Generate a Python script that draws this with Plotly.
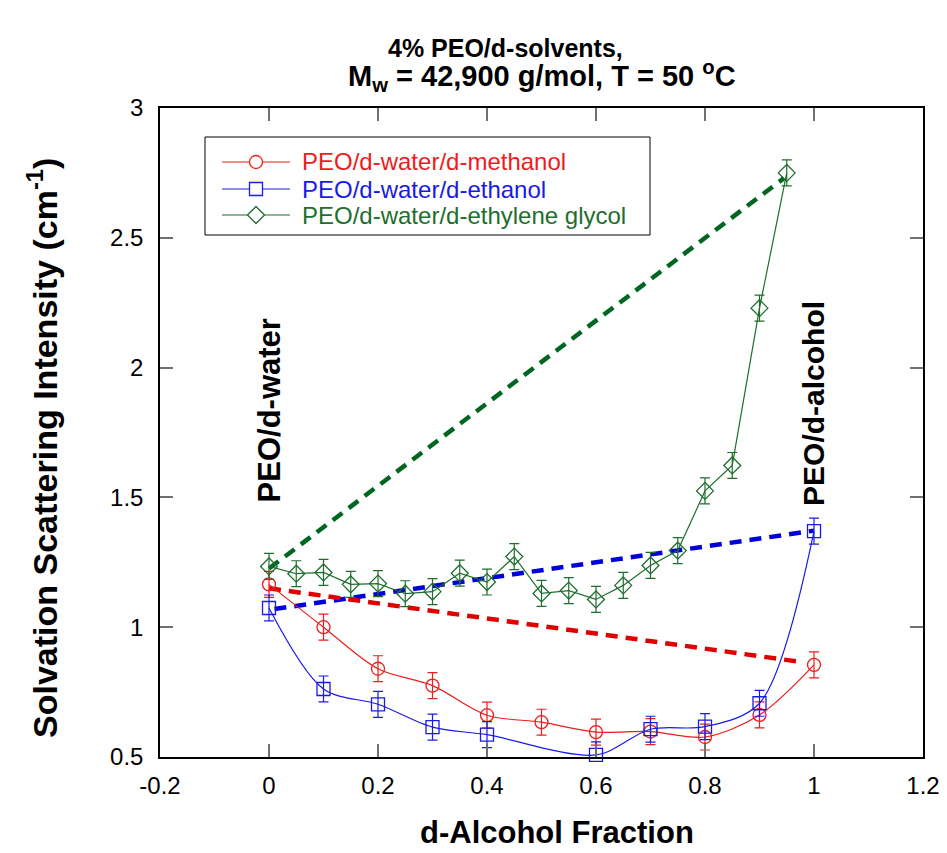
import plotly.graph_objects as go

# ---------------- data ----------------
x_meoh = [0.0, 0.1, 0.2, 0.3, 0.4, 0.5, 0.6, 0.7, 0.8, 0.9, 1.0]
y_meoh = [1.165, 1.00, 0.84, 0.775, 0.661, 0.634, 0.596, 0.598, 0.577, 0.662, 0.855]
e_meoh = [0.05, 0.05, 0.05, 0.05, 0.05, 0.05, 0.05, 0.05, 0.05, 0.05, 0.05]

x_etoh = [0.0, 0.1, 0.2, 0.3, 0.4, 0.6, 0.7, 0.8, 0.9, 1.0]
y_etoh = [1.074, 0.762, 0.703, 0.615, 0.586, 0.508, 0.607, 0.617, 0.707, 1.37]
e_etoh = [0.05, 0.05, 0.05, 0.05, 0.05, 0.05, 0.05, 0.05, 0.05, 0.05]

x_eg = [0.0, 0.05, 0.1, 0.15, 0.2, 0.25, 0.3, 0.35, 0.4, 0.45,
        0.5, 0.55, 0.6, 0.65, 0.7, 0.75, 0.8, 0.85, 0.9, 0.95]
y_eg = [1.234, 1.206, 1.211, 1.165, 1.168, 1.129, 1.137, 1.208, 1.174, 1.272,
        1.13, 1.141, 1.107, 1.161, 1.238, 1.295, 1.525, 1.623, 2.229, 2.75]
e_eg = [0.05] * 20  # uniform error bars

# dashed "ideal mixing" lines (end points)
dash_meoh_x = [0.0, 0.98]
dash_meoh_y = [1.15, 0.865]
dash_etoh_x = [0.01, 1.0]
dash_etoh_y = [1.07, 1.372]
dash_eg_x = [0.0, 0.945]
dash_eg_y = [1.226, 2.73]

x_ticks = [-0.2, 0, 0.2, 0.4, 0.6, 0.8, 1, 1.2]
x_ticklabels = ["-0.2", "0", "0.2", "0.4", "0.6", "0.8", "1", "1.2"]
y_ticks = [0.5, 1, 1.5, 2, 2.5, 3]
y_ticklabels = ["0.5", "1", "1.5", "2", "2.5", "3"]

series_names = ["PEO/d-water/d-methanol", "PEO/d-water/d-ethanol",
                "PEO/d-water/d-ethylene glycol"]

# ---------------- style ----------------
RED = "#ee1c1c"
BLUE = "#1a1ae6"
GREEN = "#1e6e2e"
DRED = "#e00000"
DBLUE = "#0000dd"
DGREEN = "#006622"
FONT = "Liberation Sans, Arial, sans-serif"

# page body has an 8px default margin -> compensate
OFF = 8
W, H = 947 - OFF, 853 - OFF
PL, PR, PT, PB = 160, 923, 108, 757          # plot area in window pixels
L, R, T, B = PL - OFF, OFF + W - PR, PT - OFF, OFF + H - PB
PW, PH = PR - PL, PB - PT


def px(xw):
    return (xw - PL) / PW


def py(yw):
    return (PB - yw) / PH


fig = go.Figure()

# dashed lines (drawn first, under the data)
for dx, dy, c in [(dash_eg_x, dash_eg_y, DGREEN),
                  (dash_etoh_x, dash_etoh_y, DBLUE),
                  (dash_meoh_x, dash_meoh_y, DRED)]:
    fig.add_trace(go.Scatter(x=dx, y=dy, mode="lines", showlegend=False,
                             line=dict(color=c, width=4.5, dash="12px,8px"),
                             hoverinfo="skip"))


def add_series(x, y, e, name, color, symbol, size, shape):
    fig.add_trace(go.Scatter(
        x=x, y=y, mode="lines+markers", name=name, showlegend=False,
        line=dict(color=color, width=1.2, shape=shape, smoothing=0.9),
        marker=dict(symbol=symbol, size=size, color="rgba(255,255,255,0)",
                    line=dict(color=color, width=1.3)),
        error_y=dict(type="data", array=e, visible=True, color=color,
                     thickness=1.2, width=5),
        cliponaxis=False,
    ))


add_series(x_meoh, y_meoh, e_meoh, series_names[0], RED, "circle", 13, "spline")
add_series(x_etoh, y_etoh, e_etoh, series_names[1], BLUE, "square", 13, "spline")
add_series(x_eg, y_eg, e_eg, series_names[2], GREEN, "diamond", 13, "linear")

# ---------------- custom legend (box, samples, coloured labels) ----------------
LEG_X0, LEG_X1, LEG_Y0, LEG_Y1 = 205, 650, 137, 235
ROWS = [162, 189, 215]
SAMPLE_X0, SAMPLE_X1, SAMPLE_XC, TEXT_X = 222, 290, 256, 300
shapes = [dict(type="rect", xref="paper", yref="paper",
               x0=px(LEG_X0), x1=px(LEG_X1), y0=py(LEG_Y1), y1=py(LEG_Y0),
               line=dict(color="black", width=1), fillcolor="white", layer="above")]
annotations = []
colors = [RED, BLUE, GREEN]
r = 6.5
for i, (yr, c, nm) in enumerate(zip(ROWS, colors, series_names)):
    shapes.append(dict(type="line", xref="paper", yref="paper",
                       x0=px(SAMPLE_X0), x1=px(SAMPLE_X1), y0=py(yr), y1=py(yr),
                       line=dict(color=c, width=1.2), layer="above"))
    if i == 0:
        shapes.append(dict(type="circle", xref="paper", yref="paper",
                           x0=px(SAMPLE_XC - r), x1=px(SAMPLE_XC + r),
                           y0=py(yr + r), y1=py(yr - r),
                           line=dict(color=c, width=1.3), fillcolor="white", layer="above"))
    elif i == 1:
        shapes.append(dict(type="rect", xref="paper", yref="paper",
                           x0=px(SAMPLE_XC - r), x1=px(SAMPLE_XC + r),
                           y0=py(yr + r), y1=py(yr - r),
                           line=dict(color=c, width=1.3), fillcolor="white", layer="above"))
    else:
        d = 8.5
        path = (f"M {px(SAMPLE_XC - d)},{py(yr)} L {px(SAMPLE_XC)},{py(yr - d)} "
                f"L {px(SAMPLE_XC + d)},{py(yr)} L {px(SAMPLE_XC)},{py(yr + d)} Z")
        shapes.append(dict(type="path", xref="paper", yref="paper", path=path,
                           line=dict(color=c, width=1.3), fillcolor="white", layer="above"))
    annotations.append(dict(x=px(TEXT_X), y=py(yr), xref="paper", yref="paper",
                            xanchor="left", yanchor="middle", text=nm, showarrow=False,
                            font=dict(family=FONT, size=24, color=c)))

annotations += [
    dict(x=px(505), y=py(48), xref="paper", yref="paper", xanchor="center",
         yanchor="middle", text="<b>4% PEO/d-solvents,</b>", showarrow=False,
         font=dict(family=FONT, size=25, color="black")),
    dict(x=px(542), y=py(76), xref="paper", yref="paper", xanchor="center",
         yanchor="middle",
         text="<b>M<sub>w</sub> = 42,900 g/mol, T = 50 <sup>o</sup>C</b>",
         showarrow=False, font=dict(family=FONT, size=29, color="black")),
    dict(x=px(557), y=py(832), xref="paper", yref="paper", xanchor="center",
         yanchor="middle", text="<b>d-Alcohol Fraction</b>", showarrow=False,
         font=dict(family=FONT, size=31, color="black")),
    dict(x=px(42), y=py(448), xref="paper", yref="paper", xanchor="center",
         yanchor="middle",
         text="<b>Solvation Scattering Intensity (cm<sup>-1</sup>)</b>",
         textangle=-90, showarrow=False,
         font=dict(family=FONT, size=34, color="black")),
    dict(x=0, y=1.835, xref="x", yref="y", xanchor="center", yanchor="middle",
         text="<b>PEO/d-water</b>", textangle=-90, showarrow=False,
         font=dict(family=FONT, size=31, color="black")),
    dict(x=1, y=1.86, xref="x", yref="y", xanchor="center", yanchor="middle",
         text="<b>PEO/d-alcohol</b>", textangle=-90, showarrow=False,
         font=dict(family=FONT, size=30, color="black")),
]

axis_common = dict(
    showline=True, linecolor="black", linewidth=1.5, mirror="ticks",
    ticks="inside", ticklen=13, tickwidth=2, tickcolor="#707070",
    showgrid=False, zeroline=False, automargin=False,
    tickfont=dict(family=FONT, size=24, color="black"),
)

fig.update_layout(
    width=W, height=H,
    margin=dict(l=L, r=R, t=T, b=B),
    paper_bgcolor="white", plot_bgcolor="white",
    font=dict(family=FONT, color="black"),
    showlegend=False,
    xaxis=dict(range=[-0.2, 1.2], tickvals=x_ticks, ticktext=x_ticklabels,
               ticklabelstandoff=6, **axis_common),
    yaxis=dict(range=[0.5, 3], tickvals=y_ticks, ticktext=y_ticklabels,
               ticklabelstandoff=10, **axis_common),
    shapes=shapes,
    annotations=annotations,
)

fig.write_html("out.html")
